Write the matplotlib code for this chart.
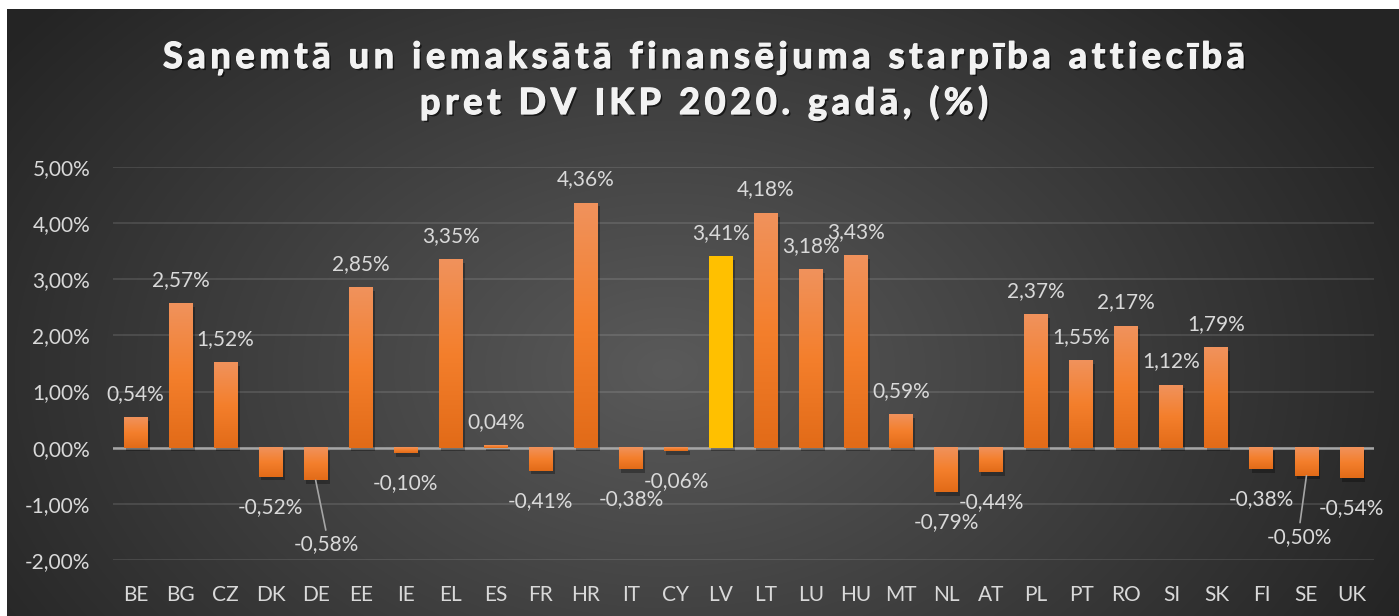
import numpy as np
import matplotlib
matplotlib.use("Agg")
import matplotlib.pyplot as plt
import matplotlib.patheffects as pe
from matplotlib.colors import LinearSegmentedColormap
from matplotlib import font_manager
from matplotlib.ft2font import FT2Font

# dati
countries = ["BE", "BG", "CZ", "DK", "DE", "EE", "IE", "EL", "ES", "FR", "HR", "IT", "CY", "LV",
             "LT", "LU", "HU", "MT", "NL", "AT", "PL", "PT", "RO", "SI", "SK", "FI", "SE", "UK"]
values = [0.54, 2.57, 1.52, -0.52, -0.58, 2.85, -0.10, 3.35, 0.04, -0.41, 4.36, -0.38, -0.06, 3.41,
          4.18, 3.18, 3.43, 0.59, -0.79, -0.44, 2.37, 1.55, 2.17, 1.12, 1.79, -0.38, -0.50, -0.54]
highlight = "LV"
yticks = [-2, -1, 0, 1, 2, 3, 4, 5]

title_lines = ["Saņemtā un iemaksātā finansējuma starpība attiecībā",
               "pret DV IKP 2020. gadā, (%)"]

# etiķetes ar līniju (nobīde pikseļos)
leader_offsets = {"DE": (11, -64), "SE": (-7, -61)}

W, H = 1399, 616
fig = plt.figure(figsize=(W / 100, H / 100), dpi=100, facecolor="white")

# fons - radiāls gradients
bg = fig.add_axes([7 / W, 0, 1 - 7 / W, 1 - 9 / H])
bg.set_axis_off()
yy, xx = np.mgrid[0:607, 0:1392]
cx, cy = 660, 360
d = np.sqrt(((xx - cx) / 820) ** 2 + ((yy - cy) / 560) ** 2)
d = np.clip(d, 0, 1)
c_in = np.array([0x5a, 0x5a, 0x5a]) / 255
c_out = np.array([0x24, 0x24, 0x24]) / 255
img = c_in[None, None, :] * (1 - d[..., None]) + c_out[None, None, :] * d[..., None]
bg.imshow(img, aspect="auto", extent=(0, 1, 0, 1))
bg.set_xlim(0, 1)
bg.set_ylim(0, 1)

ax = fig.add_axes([113 / W, 1 - 560 / H, (1374 - 113) / W, (560 - 167) / H])
ax.patch.set_alpha(0)

x = np.arange(len(countries))
bars = ax.bar(x, values, width=0.53, color="#f07f2e", zorder=3,
              path_effects=[pe.SimplePatchShadow(offset=(1.5, -2.5), shadow_rgbFace="black", alpha=0.3),
                            pe.Normal()])

grad = LinearSegmentedColormap.from_list("og", ["#f0925c", "#f47f2c", "#e26b18"])
g = np.linspace(0, 1, 100)[:, None]
for name, b in zip(countries, bars):
    x0, w = b.get_x(), b.get_width()
    y0, h = b.get_y(), b.get_height()
    if name == highlight:
        b.set_facecolor("#ffc000")
        continue
    ax.imshow(g, cmap=grad, aspect="auto", origin="upper",
              extent=(x0, x0 + w, min(y0, y0 + h), max(y0, y0 + h)), zorder=4)

ax.set_xlim(-0.5, len(countries) - 0.5)
ax.set_ylim(-2, 5)
ax.set_yticks(yticks)
ax.set_yticklabels([f"{v:,.2f}%".replace(".", ",") for v in yticks])
ax.set_xticks(x)
ax.set_xticklabels(countries)
ax.grid(axis="y", color="#ffffff", alpha=0.13, linewidth=1.2, zorder=1)
ax.axhline(0, color="#a6a6a6", linewidth=1.8, zorder=2)
for s in ax.spines.values():
    s.set_visible(False)
ax.tick_params(length=0, colors="#d9d9d9", labelsize=15)
ax.tick_params(axis="y", pad=16.5)
ax.tick_params(axis="x", pad=18)
for lab in ax.get_xticklabels() + ax.get_yticklabels():
    lab.set_fontfamily("Lato")

for name, b, v in zip(countries, bars, values):
    xc = b.get_x() + b.get_width() / 2
    txt = f"{v:.2f}%".replace(".", ",")
    if name in leader_offsets:
        ax.annotate(txt, xy=(xc, v), xytext=leader_offsets[name], textcoords="offset pixels",
                    ha="center", va="center", color="#d9d9d9", fontsize=15, family="Lato",
                    arrowprops=dict(arrowstyle="-", color="#a6a6a6", lw=1.2,
                                    relpos=(0.5, 1.0), shrinkA=1, shrinkB=0), zorder=6)
    else:
        off = 23.5 if v >= 0 else -30
        ax.annotate(txt, xy=(xc, v), xytext=(0, off), textcoords="offset pixels",
                    ha="center", va="center", color="#d9d9d9", fontsize=15, family="Lato", zorder=6)

# virsraksts ar retinātiem burtiem (Excel stils)
tsize = 26
fp = font_manager.FontProperties(family="Lato", weight="bold")
ft = FT2Font(font_manager.findfont(fp))
ft.set_size(tsize, 100)


def advances(s):
    return [ft.load_char(ord(c)).linearHoriAdvance / 65536 for c in s]


adv1 = advances(title_lines[0])
track = (1082 - sum(adv1)) / (len(title_lines[0]) - 1)
title_fx = [pe.withSimplePatchShadow(offset=(1.5, -1.5), shadow_rgbFace="black", alpha=0.6),
            pe.Stroke(linewidth=0.9, foreground="#f2f2f2"), pe.Normal()]
for line, base in zip(title_lines, [68, 114]):
    adv = advances(line)
    total = sum(adv) + track * (len(line) - 1)
    px = 704 - total / 2
    for c, a in zip(line, adv):
        if c != " ":
            fig.text(px / W, 1 - base / H, c, ha="left", va="baseline", color="#f2f2f2",
                     fontsize=tsize, fontweight="bold", family="Lato", path_effects=title_fx)
        px += a + track

fig.savefig("out.png", dpi=100, facecolor="white")
